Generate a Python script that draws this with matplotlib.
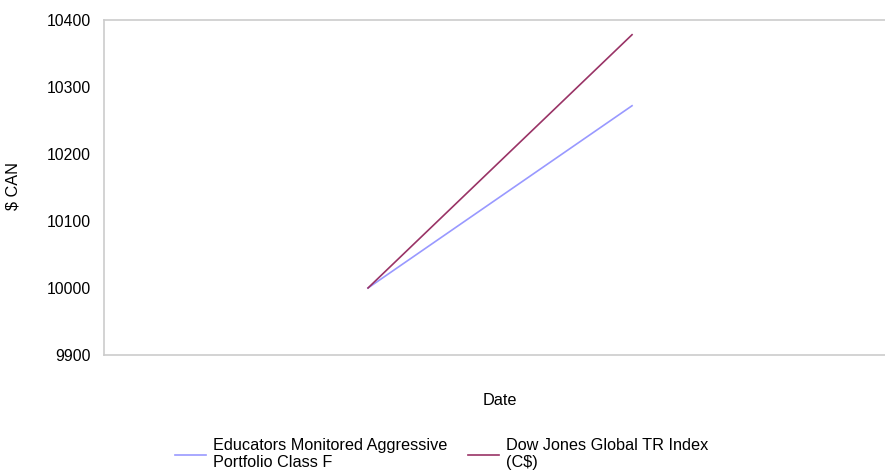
import matplotlib

matplotlib.use("Agg")
import matplotlib.pyplot as plt

plt.rcParams["font.family"] = ["Liberation Sans", "DejaVu Sans"]

# Growth of $10,000 (two observations, start and end of period)
periods = [0, 1]
portfolio_values = [10000, 10272]
index_values = [10000, 10378]
series_names = ["Educators Monitored Aggressive\nPortfolio Class F", "Dow Jones Global TR Index\n(C$)"]
y_ticks = [9900, 10000, 10100, 10200, 10300, 10400]

fig = plt.figure(figsize=(8.85, 4.70), dpi=100)
ax = fig.add_axes([0.1175, 0.2447, 0.895, 0.7128])

ax.plot(periods, portfolio_values, color="#9999ff", linewidth=1.2, label=series_names[0])
ax.plot(periods, index_values, color="#993366", linewidth=1.2, label=series_names[1])

ax.set_xlim(-1, 2)
ax.set_ylim(9900, 10400)
ax.set_yticks(y_ticks)
ax.set_xticks([])
ax.tick_params(axis="y", length=0, pad=9.5, labelsize=11.3)

for side in ["top", "left", "bottom"]:
    ax.spines[side].set_color("#cccccc")
    ax.spines[side].set_linewidth(1.2)
ax.spines["right"].set_visible(False)

ax.set_ylabel("$ CAN", fontsize=11.7)
ax.yaxis.set_label_coords(-0.105, 0.505)
ax.set_xlabel("Date", fontsize=11.7)
ax.xaxis.set_label_coords(0.5, -0.113)

leg = fig.legend(
    loc="upper center",
    bbox_to_anchor=(0.499, 0.068),
    ncol=2,
    frameon=False,
    fontsize=11.7,
    handlelength=1.9,
    handletextpad=0.43,
    columnspacing=1.23,
    borderaxespad=0,
    borderpad=0,
)
for txt in leg.get_texts():
    txt.set_linespacing(1.2)

fig.savefig("out.png", dpi=100)
